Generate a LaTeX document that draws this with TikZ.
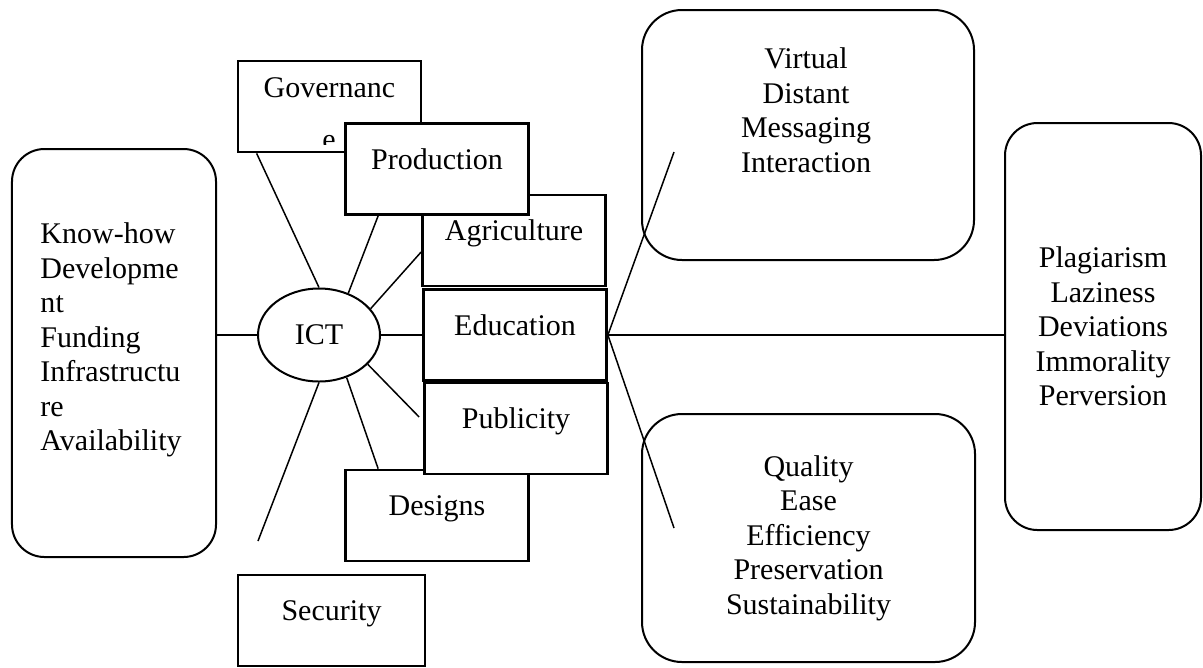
\documentclass[tikz,border=0pt]{standalone}
\usepackage{fontspec}
\setmainfont{Liberation Serif}
\usetikzlibrary{shapes.geometric}

\begin{document}
\begin{tikzpicture}
[%%%%%%%%%%%%%%%%%%%%%%%%%%%%%%
x=0.4pt, y=-0.4pt,
font=\fontsize{12}{13.8}\selectfont,
box/.style={rectangle,draw=black,line width=1.1pt,fill=white,minimum width=73.2pt,minimum height=36.4pt,text height=8pt,text depth=8pt,inner sep=0pt},
roundbox/.style={rectangle,draw=black,line width=0.8pt,rounded corners=13pt,inner sep=0pt},
spoke/.style={draw=black,line width=0.6pt},
]%%%%%%%%%%%%%%%%%%%%%%%%%%%%%%

\useasboundingbox (0,0) rectangle (1203,667);

% requirements on the left
\node[roundbox,minimum width=81.6pt,minimum height=163.2pt] (need) at (114,353){};
\node[align=left,anchor=north west,inner sep=0pt] (needtxt) at (40,222.5)
  {Know-how\\Developme\\nt\\Funding\\Infrastructu\\re\\Availability};

% the hub
\node[ellipse,draw=black,line width=0.8pt,minimum width=48.8pt,minimum height=37.2pt,inner sep=0pt] (ict) at (319,335){ICT};

% sectors
\node[box,text depth=15.6pt] (gov) at (329.5,106.5){Governanc};
\begin{scope}
\clip (gov.north west) rectangle ([yshift=3.6pt]gov.south east);
\node[anchor=base,inner sep=0pt] (gove) at (329,149){e};
\end{scope}
\node[box] (agri) at (514,240.5){Agriculture};
\node[box] (prod) at (437,169){Production};
\node[box] (edu) at (515,335){Education};
\node[box] (des) at (437,515.5){Designs};
\node[box] (pub) at (516,428.5){Publicity};
\node[box,minimum width=74.8pt] (sec) at (331.5,620.5){Security};

% outcomes on the right
\node[roundbox,rounded corners=16pt,minimum width=132.8pt,minimum height=100pt] (links) at (808,135){};
\node[align=center,anchor=north,inner sep=0pt] (linkstxt) at (806,47.5)
  {Virtual\\Distant\\Messaging\\Interaction};
\node[roundbox,rounded corners=16pt,minimum width=133.2pt,minimum height=99.2pt,align=center] (gains) at (808.5,538)
  {Quality\\Ease\\Efficiency\\Preservation\\Sustainability};
\node[roundbox,minimum width=78.4pt,minimum height=162.8pt,align=center] (risks) at (1103,326.5)
  {Plagiarism\\Laziness\\Deviations\\Immorality\\Perversion};

\coordinate (secend) at (258,541);
\coordinate (linkend) at (674,152);
\coordinate (gainend) at (674,528);

% spokes round the hub
\draw[spoke] (ict.west) -- (ict.west -| need.east);
\draw[spoke] (ict.north) -- ([xshift=8pt]gov.south west);
\draw[spoke] (ict.55) -- ([xshift=13.6pt]prod.south west);
\draw[spoke] (ict.27) -- ([yshift=-4.6pt]agri.west);
\draw[spoke] (ict.east) -- (edu.west);
\draw[spoke] (ict.-31) -- ([xshift=-1.6pt,yshift=4.6pt]pub.west);
\draw[spoke] (ict.-57) -- ([xshift=13.6pt]des.north west);
\draw[spoke] (ict.south) -- (secend);

% from education outwards
\draw[spoke] (edu.east) -- (linkend);
\draw[spoke] (edu.east) -- (edu.east -| risks.west);
\draw[spoke] (edu.east) -- (gainend);
\end{tikzpicture}
\end{document}
